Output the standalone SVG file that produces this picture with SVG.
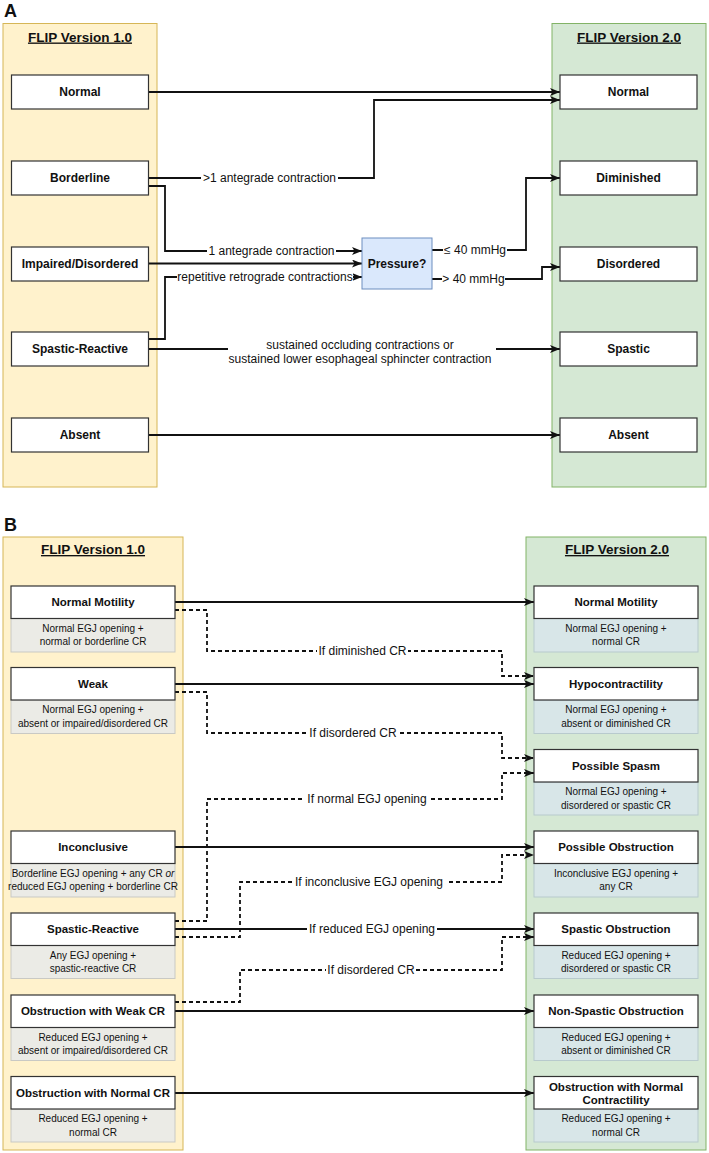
<svg xmlns="http://www.w3.org/2000/svg" width="709" height="1153" viewBox="0 0 709 1153">
<style>
text{font-family:"Liberation Sans",Arial,sans-serif;fill:#111}
.pl{font-size:18px;font-weight:bold}
.ttl{font-size:13.5px;font-weight:bold;text-decoration:underline;text-anchor:middle}
.na{font-size:12px;font-weight:bold;text-anchor:middle}
.nb{font-size:11.5px;font-weight:bold;text-anchor:middle}
.sb{font-size:10px;text-anchor:middle}
.lb{font-size:12px;text-anchor:middle}
.lc{fill:#fff2cc;stroke:#d6b656;stroke-width:1}
.rc{fill:#d5e8d4;stroke:#82b366;stroke-width:1}
.box{fill:#fff;stroke:#333;stroke-width:1.2}
.ls{fill:#ebebe6;stroke:#c9c9c4;stroke-width:1}
.rs{fill:#d8e6e8;stroke:#b8cacd;stroke-width:1}
.pr{fill:#dae8fc;stroke:#6c8ebf;stroke-width:1}
.c{fill:none;stroke:#111;stroke-width:1.8;marker-end:url(#arr)}
.cn{fill:none;stroke:#111;stroke-width:1.8}
.d{fill:none;stroke:#111;stroke-width:1.8;stroke-dasharray:4 3;marker-end:url(#arr)}
.bg{fill:#fff}
</style>
<defs>
<marker id="arr" viewBox="0 0 10 8" refX="10" refY="4" markerWidth="10" markerHeight="8" markerUnits="userSpaceOnUse" orient="auto">
<path d="M0,0 L10,4 L0,8 L2.5,4 z" fill="#111"/>
</marker>
</defs>
<rect width="709" height="1153" fill="#fff"/>

<!-- Panel A -->
<text class="pl" x="4" y="17">A</text>
<g id="A-left-container"><rect class="lc" x="3" y="23.5" width="154" height="463.5"/><text class="ttl" x="80" y="41.5">FLIP Version 1.0</text></g>
<g id="A-right-container"><rect class="rc" x="552" y="23.5" width="154" height="463.5"/><text class="ttl" x="629" y="41.5">FLIP Version 2.0</text></g>

<g id="A-connectors">
<path class="c" d="M149,92 H560"/>
<path class="c" d="M149,178 H374 V100 H560"/>
<path class="c" d="M149,186 H165 V251 H362"/>
<path class="c" d="M149,263.5 H362"/>
<path class="c" d="M149,339 H165 V277 H362"/>
<path class="c" d="M149,349 H560"/>
<path class="c" d="M149,435 H560"/>
<path class="c" d="M432,250 H526 V178 H560"/>
<path class="c" d="M432,279 H542 V267 H560"/>
<rect class="bg" x="201" y="171" width="137" height="14"/>
<text class="lb" x="269.5" y="182">&gt;1 antegrade contraction</text>
<rect class="bg" x="207" y="244" width="129" height="14"/>
<text class="lb" x="271.5" y="255">1 antegrade contraction</text>
<rect class="bg" x="177" y="270" width="176" height="14"/>
<text class="lb" x="265" y="281">repetitive retrograde contractions</text>
<rect class="bg" x="443" y="243" width="64" height="14"/>
<text class="lb" x="475" y="254">≤ 40 mmHg</text>
<rect class="bg" x="442" y="272" width="63" height="14"/>
<text class="lb" x="473.5" y="283">&gt; 40 mmHg</text>
<rect class="bg" x="228" y="336" width="268" height="31"/>
<text class="lb" x="360" y="348.5">sustained occluding contractions or</text>
<text class="lb" x="360" y="363">sustained lower esophageal sphincter contraction</text>
</g>

<g id="A-L-normal"><rect class="box" x="11.5" y="75" width="137" height="34"/><text class="na" x="80" y="96.3">Normal</text></g>
<g id="A-L-borderline"><rect class="box" x="11.5" y="161" width="137" height="34"/><text class="na" x="80" y="182.3">Borderline</text></g>
<g id="A-L-impaired"><rect class="box" x="11.5" y="247" width="137" height="34"/><text class="na" x="80" y="268.3">Impaired/Disordered</text></g>
<g id="A-L-spastic"><rect class="box" x="11.5" y="332" width="137" height="34"/><text class="na" x="80" y="353.3">Spastic-Reactive</text></g>
<g id="A-L-absent"><rect class="box" x="11.5" y="418" width="137" height="34"/><text class="na" x="80" y="439.3">Absent</text></g>

<g id="A-pressure"><rect class="pr" x="362" y="238" width="70" height="51"/><text class="na" x="397" y="267.5">Pressure?</text></g>

<g id="A-R-normal"><rect class="box" x="560" y="75" width="137" height="34"/><text class="na" x="628.5" y="96.3">Normal</text></g>
<g id="A-R-diminished"><rect class="box" x="560" y="161" width="137" height="34"/><text class="na" x="628.5" y="182.3">Diminished</text></g>
<g id="A-R-disordered"><rect class="box" x="560" y="247" width="137" height="34"/><text class="na" x="628.5" y="268.3">Disordered</text></g>
<g id="A-R-spastic"><rect class="box" x="560" y="332" width="137" height="34"/><text class="na" x="628.5" y="353.3">Spastic</text></g>
<g id="A-R-absent"><rect class="box" x="560" y="418" width="137" height="34"/><text class="na" x="628.5" y="439.3">Absent</text></g>

<!-- Panel B -->
<text class="pl" x="4" y="530.5">B</text>
<g id="B-left-container"><rect class="lc" x="3" y="537" width="180" height="613"/><text class="ttl" x="93" y="554">FLIP Version 1.0</text></g>
<g id="B-right-container"><rect class="rc" x="526" y="537" width="180" height="613"/><text class="ttl" x="617" y="554">FLIP Version 2.0</text></g>

<g id="B-connectors">
<path class="c" d="M175,602 H534"/>
<path class="d" d="M175,610 H207 V651 H502 V676 H534"/>
<path class="c" d="M175,684 H534"/>
<path class="d" d="M175,692 H207 V733 H502 V758 H534"/>
<path class="d" d="M175,921 H207 V799 H502 V773 H534"/>
<path class="c" d="M175,847 H534"/>
<path class="d" d="M175,937 H240 V882 H502 V855 H534"/>
<path class="c" d="M175,929 H534"/>
<path class="d" d="M175,1002 H240 V970 H502 V937 H534"/>
<path class="c" d="M175,1011 H534"/>
<path class="c" d="M175,1093 H534"/>
<rect class="bg" x="317" y="644" width="91" height="14"/>
<text class="lb" x="362.5" y="655">If diminished CR</text>
<rect class="bg" x="308" y="726" width="90" height="14"/>
<text class="lb" x="353" y="737">If disordered CR</text>
<rect class="bg" x="305" y="792" width="124" height="14"/>
<text class="lb" x="367" y="803">If normal EGJ opening</text>
<rect class="bg" x="292" y="875" width="154" height="14"/>
<text class="lb" x="369" y="886">If inconclusive EGJ opening</text>
<rect class="bg" x="307" y="922" width="130" height="14"/>
<text class="lb" x="372" y="933">If reduced EGJ opening</text>
<rect class="bg" x="326" y="963" width="90" height="14"/>
<text class="lb" x="371" y="974">If disordered CR</text>
</g>

<g id="B-L-normal-motility"><rect class="ls" x="11" y="618.5" width="164" height="33.5"/><rect class="box" x="11" y="586" width="164" height="32.5"/><text class="nb" x="93" y="606.3">Normal Motility</text><text class="sb" x="93" y="631.8">Normal EGJ opening +</text><text class="sb" x="93" y="645.2">normal or borderline CR</text></g>
<g id="B-L-weak"><rect class="ls" x="11" y="700" width="164" height="33.5"/><rect class="box" x="11" y="667.5" width="164" height="32.5"/><text class="nb" x="93" y="687.8">Weak</text><text class="sb" x="93" y="713.3">Normal EGJ opening +</text><text class="sb" x="93" y="726.7">absent or impaired/disordered CR</text></g>
<g id="B-L-inconclusive"><rect class="ls" x="11" y="863.5" width="164" height="33.5"/><rect class="box" x="11" y="831" width="164" height="32.5"/><text class="nb" x="93" y="851.3">Inconclusive</text><text class="sb" x="93" y="876.8">Borderline EGJ opening + any CR <tspan font-style="italic">or</tspan></text><text class="sb" x="93" y="890.2">reduced EGJ opening + borderline CR</text></g>
<g id="B-L-spastic-reactive"><rect class="ls" x="11" y="945.5" width="164" height="33"/><rect class="box" x="11" y="913" width="164" height="32.5"/><text class="nb" x="93" y="933.3">Spastic-Reactive</text><text class="sb" x="93" y="958.6">Any EGJ opening +</text><text class="sb" x="93" y="972">spastic-reactive CR</text></g>
<g id="B-L-obstruction-weak"><rect class="ls" x="11" y="1027.5" width="164" height="33"/><rect class="box" x="11" y="995" width="164" height="32.5"/><text class="nb" x="93" y="1015.3">Obstruction with Weak CR</text><text class="sb" x="93" y="1040.6">Reduced EGJ opening +</text><text class="sb" x="93" y="1054">absent or impaired/disordered CR</text></g>
<g id="B-L-obstruction-normal"><rect class="ls" x="11" y="1109" width="164" height="33"/><rect class="box" x="11" y="1076.5" width="164" height="32.5"/><text class="nb" x="93" y="1096.8">Obstruction with Normal CR</text><text class="sb" x="93" y="1122.1">Reduced EGJ opening +</text><text class="sb" x="93" y="1135.5">normal CR</text></g>

<g id="B-R-normal-motility"><rect class="rs" x="534" y="618.5" width="164" height="33.5"/><rect class="box" x="534" y="586" width="164" height="32.5"/><text class="nb" x="616" y="606.3">Normal Motility</text><text class="sb" x="616" y="631.8">Normal EGJ opening +</text><text class="sb" x="616" y="645.2">normal CR</text></g>
<g id="B-R-hypocontractility"><rect class="rs" x="534" y="700" width="164" height="33.5"/><rect class="box" x="534" y="667.5" width="164" height="32.5"/><text class="nb" x="616" y="687.8">Hypocontractility</text><text class="sb" x="616" y="713.3">Normal EGJ opening +</text><text class="sb" x="616" y="726.7">absent or diminished CR</text></g>
<g id="B-R-possible-spasm"><rect class="rs" x="534" y="782" width="164" height="33"/><rect class="box" x="534" y="749.5" width="164" height="32.5"/><text class="nb" x="616" y="769.8">Possible Spasm</text><text class="sb" x="616" y="795.1">Normal EGJ opening +</text><text class="sb" x="616" y="808.5">disordered or spastic CR</text></g>
<g id="B-R-possible-obstruction"><rect class="rs" x="534" y="863.5" width="164" height="33.5"/><rect class="box" x="534" y="831" width="164" height="32.5"/><text class="nb" x="616" y="851.3">Possible Obstruction</text><text class="sb" x="616" y="876.8">Inconclusive EGJ opening +</text><text class="sb" x="616" y="890.2">any CR</text></g>
<g id="B-R-spastic-obstruction"><rect class="rs" x="534" y="945.5" width="164" height="33"/><rect class="box" x="534" y="913" width="164" height="32.5"/><text class="nb" x="616" y="933.3">Spastic Obstruction</text><text class="sb" x="616" y="958.6">Reduced EGJ opening +</text><text class="sb" x="616" y="972">disordered or spastic CR</text></g>
<g id="B-R-non-spastic-obstruction"><rect class="rs" x="534" y="1027.5" width="164" height="33"/><rect class="box" x="534" y="995" width="164" height="32.5"/><text class="nb" x="616" y="1015.3">Non-Spastic Obstruction</text><text class="sb" x="616" y="1040.6">Reduced EGJ opening +</text><text class="sb" x="616" y="1054">absent or diminished CR</text></g>
<g id="B-R-obstruction-normal-contractility"><rect class="rs" x="534" y="1109" width="164" height="33"/><rect class="box" x="534" y="1076.5" width="164" height="32.5"/><text class="nb" x="616" y="1090.7">Obstruction with Normal</text><text class="nb" x="616" y="1104">Contractility</text><text class="sb" x="616" y="1122.1">Reduced EGJ opening +</text><text class="sb" x="616" y="1135.5">normal CR</text></g>
</svg>
